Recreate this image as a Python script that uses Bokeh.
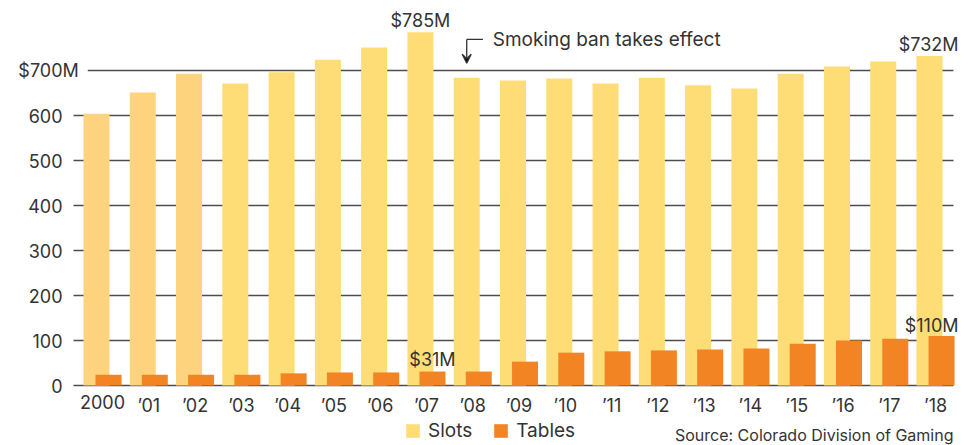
from bokeh.plotting import figure
from bokeh.models import (ColumnDataSource, Legend, LegendItem, Label,
                          Arrow, VeeHead, Range1d)
from bokeh.transform import dodge
from bokeh.core.properties import value
from bokeh.embed import file_html
from bokeh.resources import INLINE

# ---------------- data ----------------
years = ["2000", "\u201901", "\u201902", "\u201903", "\u201904", "\u201905", "\u201906",
         "\u201907", "\u201908", "\u201909", "\u201910", "\u201911", "\u201912", "\u201913",
         "\u201914", "\u201915", "\u201916", "\u201917", "\u201918"]
slots = [604, 651, 693, 671, 696, 724, 751, 785, 684, 678, 682, 671, 684, 667, 660, 693, 709, 720, 732]
tables = [24, 24, 24, 24, 27, 29, 29, 31, 31, 53, 73, 76, 78, 80, 82, 93, 100, 104, 110]
y_ticks = [0, 100, 200, 300, 400, 500, 600, 700]
y_tick_labels = ["0", "100", "200", "300", "400", "500", "600", "$700"]
early_years = 3          # first three slot bars drawn in a warmer shade
ban_year_index = 8       # '08
annotation_text = "Smoking ban takes effect"
source_text = "Source: Colorado Division of Gaming"

# ---------------- style ----------------
FONT = "Inter"
TEXT = "#333333"
GRID = "#4d4d4d"
SLOT_EARLY = "#FDD37D"
SLOT = "#FEDD76"
TABLE = "#F28423"
FS = "18px"

W, H = 974, 445
PX_X = 46.28           # pixels per category
PX_Y = 0.45            # pixels per $1M
X_START = -102 / PX_X
X_END = X_START + W / PX_X
Y_START = -60 / PX_Y
Y_END = Y_START + H / PX_Y
GRID_X0 = (73 - 102) / PX_X
GRID_X1 = (953 - 102) / PX_X
OFF = 0.13
BW = 0.562

idx = list(range(len(years)))
slot_colors = [SLOT_EARLY if i < early_years else SLOT for i in idx]
src = ColumnDataSource(dict(idx=idx, slots=slots, tables=tables, slot_color=slot_colors))

p = figure(width=W, height=H, x_range=Range1d(X_START, X_END), y_range=Range1d(Y_START, Y_END),
           output_backend="svg", toolbar_location=None,
           min_border=0, x_axis_location=None, y_axis_location=None)
p.outline_line_color = None
p.background_fill_color = "white"
p.border_fill_color = "white"
p.xgrid.visible = False
p.ygrid.visible = False

# gridlines
gsrc = ColumnDataSource(dict(y=y_ticks, label=y_tick_labels,
                             x0=[GRID_X0] * len(y_ticks), x1=[GRID_X1] * len(y_ticks)))
p.segment(x0="x0", x1="x1", y0="y", y1="y", source=gsrc, line_color=GRID, line_width=1.3)

# bars
r_slots = p.vbar(x=dodge("idx", -OFF), top="slots", bottom=0, width=BW, source=src,
                 fill_color="slot_color", line_color=None)
r_tables = p.vbar(x=dodge("idx", OFF), top="tables", bottom=0, width=BW, source=src,
                  fill_color=TABLE, line_color=None)

# y tick labels
p.text(x="x0", y="y", text="label", source=gsrc, x_offset=-11,
       text_align="right", text_baseline="middle",
       text_font=value(FONT), text_font_size=value(FS), text_color=TEXT)
# hanging "M" on the $700 tick label
p.add_layout(Label(x=GRID_X0, x_offset=-11, y=y_ticks[-1], text="M\u2002",
                   text_font=FONT, text_font_size=FS, text_color=TEXT,
                   text_align="left", text_baseline="middle",
                   background_fill_color="white"))

# x tick labels
xsrc = ColumnDataSource(dict(x=idx, y=[0] * len(idx), label=years))
p.text(x="x", y="y", text="label", source=xsrc, y_offset=9,
       text_align="center", text_baseline="top",
       text_font=value(FONT), text_font_size=value(FS), text_color=TEXT)

def lab(x, y, text, align, yoff, xoff=0):
    p.add_layout(Label(x=x, y=y, text=text, x_offset=xoff, y_offset=yoff,
                       text_font=FONT, text_font_size=FS, text_color=TEXT,
                       text_align=align, text_baseline="alphabetic"))

peak = slots.index(max(slots))
last = len(years) - 1
lab(peak - OFF, slots[peak], f"${slots[peak]}M", "center", 12)
lab(peak + OFF, tables[peak], f"${tables[peak]}M", "center", 12)
lab(last + OFF + BW / 2, slots[last], f"${slots[last]}M", "right", 12, 4)
lab(last + OFF + BW / 2, tables[last], f"${tables[last]}M", "right", 11, 4)

# smoking-ban annotation
ANN_Y, ANN_TIP, HOOK = 769, 716, 0.35
ax0 = ban_year_index - OFF
p.add_layout(Arrow(x_start=ax0, y_start=ANN_Y, x_end=ax0, y_end=ANN_TIP,
                   line_color=TEXT, line_width=1.3,
                   end=VeeHead(size=9, line_color=TEXT, line_width=1.3)))
p.add_layout(Arrow(x_start=ax0, y_start=ANN_Y, x_end=ax0 + HOOK, y_end=ANN_Y,
                   line_color=TEXT, line_width=1.3, end=None))
p.add_layout(Label(x=ax0, y=ANN_Y, x_offset=26, text=annotation_text,
                   text_font=FONT, text_font_size="19px", text_color=TEXT,
                   text_align="left", text_baseline="middle"))

# legend
legend = Legend(items=[LegendItem(label="Slots", renderers=[r_slots], index=early_years),
                       LegendItem(label="Tables", renderers=[r_tables])],
                location=(404, 3), orientation="horizontal",
                glyph_width=17, glyph_height=17, label_standoff=7, spacing=20,
                padding=0, margin=0, border_line_color=None, background_fill_alpha=0,
                label_text_font=FONT, label_text_font_size="19px", label_text_color=TEXT)
p.add_layout(legend)

# source
p.add_layout(Label(x=953, y=11, x_units="screen", y_units="screen", text=source_text,
                   text_font=FONT, text_font_size="16px", text_color=TEXT,
                   text_align="right", text_baseline="alphabetic"))

open("out.html", "w").write(file_html(p, INLINE))
